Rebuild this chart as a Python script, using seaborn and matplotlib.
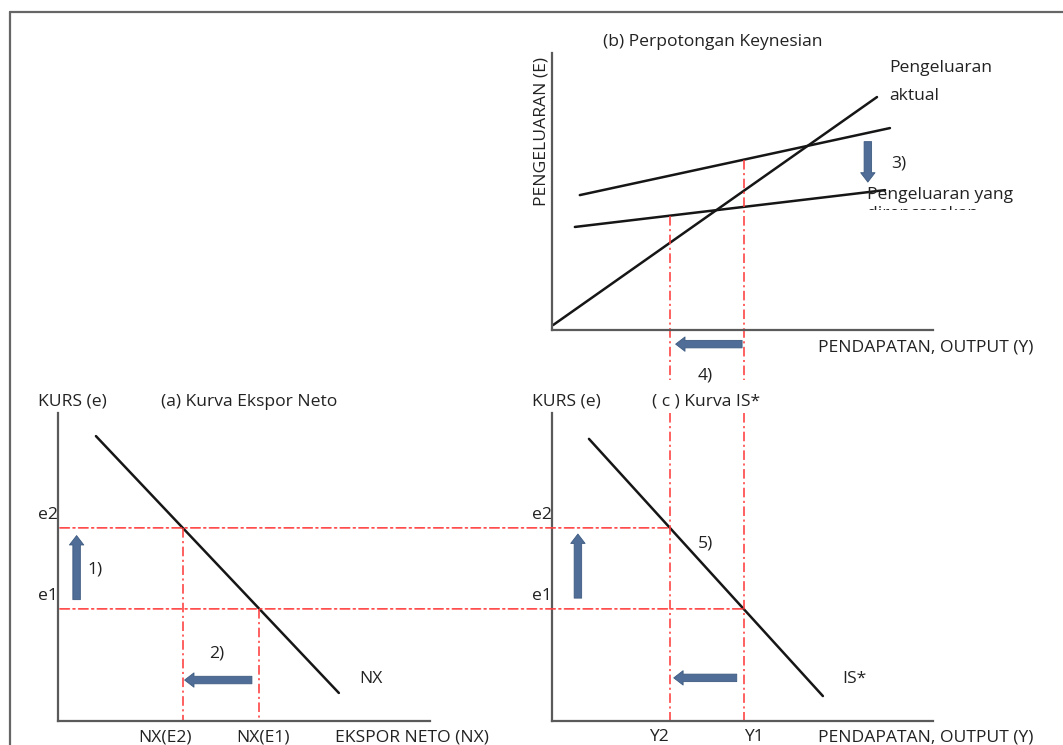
import numpy as np
import matplotlib
matplotlib.use("Agg")
import matplotlib.pyplot as plt
from matplotlib.patches import ConnectionPatch, Rectangle
from matplotlib.lines import Line2D
import seaborn as sns

# ---- schematic values (each panel uses 0..10 units on both axes) ----
# exchange-rate levels shared by panels (a) and (c)
e1, e2 = 3.64, 6.27

# (a) net export schedule: exchange rate against net exports
nx_x = [1.02, 7.55]
nx_e = [9.25, 0.91]

# (c) IS* schedule: exchange rate against income
is_y = [0.97, 7.11]
is_e = [9.16, 0.81]

# (b) Keynesian cross: actual expenditure and two planned-expenditure lines
actual_y = [0.03, 8.53]
actual_E = [0.18, 8.41]
planned_hi_y = [0.73, 8.87]
planned_hi_E = [4.87, 7.29]
planned_lo_y = [0.60, 8.74]
planned_lo_E = [3.72, 5.05]

e_labels = ["e1", "e2"]
nx_labels = ["NX(E1)", "NX(E2)"]
y_labels = ["Y1", "Y2"]


def on_line(xs, ys, y):
    """x position where a straight schedule reaches level y."""
    return float(np.interp(y, ys[::-1], xs[::-1]))


def level_at(xs, ys, x):
    return float(np.interp(x, xs, ys))


nx1, nx2 = on_line(nx_x, nx_e, e1), on_line(nx_x, nx_e, e2)
Y1, Y2 = on_line(is_y, is_e, e1), on_line(is_y, is_e, e2)

sns.set_theme(style="white")
plt.rcParams["font.family"] = ["Open Sans", "DejaVu Sans"]
plt.rcParams["font.size"] = 12.6

W, H = 1063, 745
fig = plt.figure(figsize=(W / 100, H / 100), dpi=100)
fig.patch.set_facecolor("white")

TXT = "#222222"
CURVE = "#161616"
AXC = "#5a5a5a"
RED = "#ff3d3d"
DASH = (0, (6, 2.2, 1.3, 2.2))
BLUE = "#4f6d96"


def px_axes(x0, y0, x1, y1):
    ax = fig.add_axes([x0 / W, 1 - y1 / H, (x1 - x0) / W, (y1 - y0) / H])
    ax.set_xlim(0, 10)
    ax.set_ylim(0, 10)
    ax.set_xticks([])
    ax.set_yticks([])
    ax.patch.set_alpha(0)
    for s in ("top", "right"):
        ax.spines[s].set_visible(False)
    for s in ("left", "bottom"):
        ax.spines[s].set_color(AXC)
        ax.spines[s].set_linewidth(1.6)
    return ax


def put(px, py, s, ha="left", **kw):
    return fig.text(px / W, 1 - py / H, s, ha=ha, va="center", color=TXT, **kw)


def block_arrow(ax, start, end):
    ax.annotate("", xy=end, xytext=start, annotation_clip=False,
                arrowprops=dict(arrowstyle="simple,head_length=0.75,head_width=1.15,tail_width=0.6",
                                mutation_scale=9, fc=BLUE, ec="#3d5a80", lw=0.6,
                                shrinkA=0, shrinkB=0))


def red(ax, xs, ys):
    ax.plot(xs, ys, color=RED, lw=1.15, linestyle=DASH, clip_on=False)


ax_a = px_axes(58, 413, 430, 721)
ax_b = px_axes(552, 53, 933, 330)
ax_c = px_axes(552, 413, 933, 721)

# ---------------- (b) Keynesian cross ----------------
sns.lineplot(x=actual_y, y=actual_E, ax=ax_b, color=CURVE, lw=1.8)
sns.lineplot(x=planned_hi_y, y=planned_hi_E, ax=ax_b, color=CURVE, lw=1.8)
sns.lineplot(x=planned_lo_y, y=planned_lo_E, ax=ax_b, color=CURVE, lw=1.8)
red(ax_b, [Y1, Y1], [level_at(planned_hi_y, planned_hi_E, Y1), -1.8])
red(ax_b, [Y2, Y2], [level_at(planned_lo_y, planned_lo_E, Y2), -1.8])
block_arrow(ax_b, (8.29, 6.8), (8.29, 5.34))
block_arrow(ax_b, (Y1 - 0.04, -0.51), (Y2 + 0.15, -0.51))
ax_b.set_xlim(0, 10)
ax_b.set_ylim(0, 10)

put(603, 42, "(b) Perpotongan Keynesian")
put(542, 132, "PENGELUARAN (E)", ha="center", rotation=90)
put(889, 68, "Pengeluaran")
put(889, 96, "aktual")
put(891, 163, "3)")
put(867, 195, "Pengeluaran yang")
hidden = put(867, 214, "direncanakan")
hidden.set_clip_path(Rectangle((860 / W, 1 - 210 / H), 160 / W, 6 / H,
                               transform=fig.transFigure))
put(818, 347, "PENDAPATAN, OUTPUT (Y)")
put(705, 375, "4)", ha="center")

# ---------------- (a) net exports ----------------
sns.lineplot(x=nx_x, y=nx_e, ax=ax_a, color=CURVE, lw=1.8)
red(ax_a, [nx2, nx2], [e2, 0])
red(ax_a, [nx1, nx1], [e1, 0])
block_arrow(ax_a, (0.5, e1 + 0.3), (0.5, e2 - 0.25))
block_arrow(ax_a, (nx1 - 0.2, 1.33), (nx2 + 0.05, 1.33))
ax_a.set_xlim(0, 10)
ax_a.set_ylim(0, 10)

put(38, 402, "KURS (e)")
put(161, 402, "(a) Kurva Ekspor Neto")
put(87, 570, "1)")
put(217, 653, "2)", ha="center")
put(359, 679, "NX")
put(335, 737, "EKSPOR NETO (NX)")

# ---------------- (c) IS* ----------------
sns.lineplot(x=is_y, y=is_e, ax=ax_c, color=CURVE, lw=1.8)
red(ax_c, [Y2, Y2], [10, 0])
red(ax_c, [Y1, Y1], [10, 0])
block_arrow(ax_c, (0.68, e1 + 0.35), (0.68, e2 - 0.2))
block_arrow(ax_c, (Y1 - 0.18, 1.4), (Y2 + 0.1, 1.4))
ax_c.set_xlim(0, 10)
ax_c.set_ylim(0, 10)

put(532, 402, "KURS (e)")
put(652, 402, "( c ) Kurva IS*")
put(698, 543, "5)")
put(842, 679, "IS*")
put(818, 737, "PENDAPATAN, OUTPUT (Y)")

# exchange-rate guides running from panel (a) across to the IS* curve
for e in (e1, e2):
    con = ConnectionPatch(xyA=(0.05, e), coordsA=ax_a.transData,
                          xyB=(on_line(is_y, is_e, e), e), coordsB=ax_c.transData,
                          color=RED, lw=1.15, linestyle=DASH)
    fig.add_artist(con)

# level labels on both exchange-rate axes
for ax in (ax_a, ax_c):
    for e, lab in zip((e1, e2), e_labels):
        ax.annotate(lab, xy=(0, e), xytext=(0, 13), textcoords="offset pixels",
                    ha="right", va="center", color=TXT, annotation_clip=False)

for x, lab, dx in zip((nx1, nx2), nx_labels, (4, -18)):
    ax_a.annotate(lab, xy=(x, 0), xytext=(dx, -16), textcoords="offset pixels",
                  ha="center", va="center", color=TXT, annotation_clip=False)
for x, lab, dx in zip((Y1, Y2), y_labels, (10, -11)):
    ax_c.annotate(lab, xy=(x, 0), xytext=(dx, -16), textcoords="offset pixels",
                  ha="center", va="center", color=TXT, annotation_clip=False)

# page frame
fig.add_artist(Line2D([10 / W, 1], [1 - 12 / H] * 2, transform=fig.transFigure,
                      color="#666666", lw=1.6))
fig.add_artist(Line2D([10 / W] * 2, [0, 1 - 12 / H], transform=fig.transFigure,
                      color="#666666", lw=1.6))

fig.savefig("out.png", dpi=100)
